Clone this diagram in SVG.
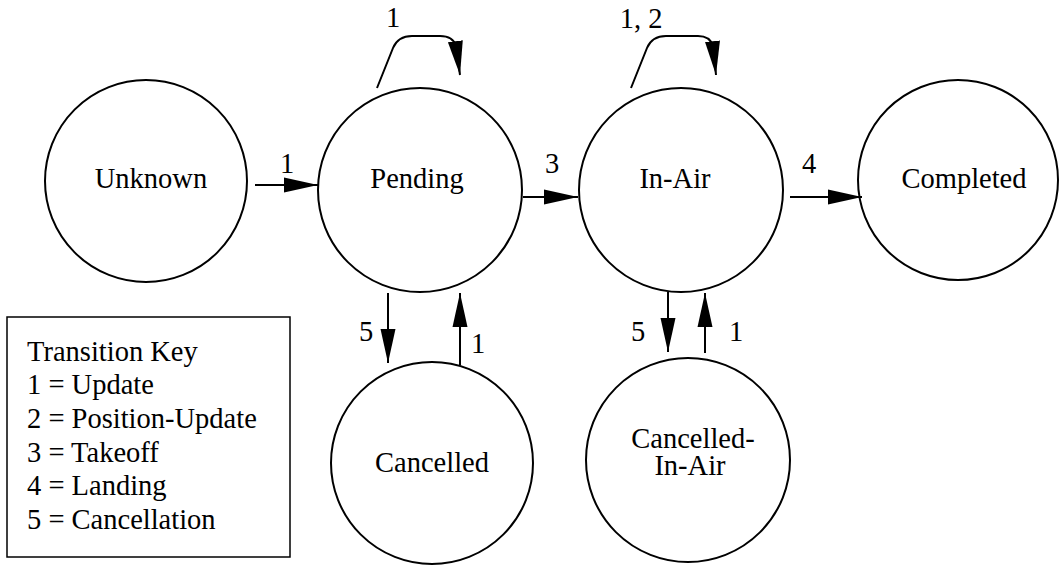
<svg xmlns="http://www.w3.org/2000/svg" width="1059" height="565" viewBox="0 0 1059 565">
<defs>
<marker id="ah" markerWidth="36" markerHeight="16" refX="34" refY="8" orient="auto" markerUnits="userSpaceOnUse">
<path d="M0,0.5 L34,8 L0,15.5 Z" fill="#000"/>
</marker>
</defs>
<style>
.node circle{fill:#fff;stroke:#000;stroke-width:2}
text{font-family:"Liberation Serif","Times New Roman",serif;font-size:28.5px;fill:#000}
.c{text-anchor:middle}
.edge{fill:none;stroke:#000;stroke-width:2}
</style>
<rect width="1059" height="565" fill="#fff"/>
<g id="unknown" class="node"><circle cx="146" cy="181" r="101"/><text class="c" x="151" y="188">Unknown</text></g>
<g id="pending" class="node"><circle cx="420" cy="190" r="102"/><text class="c" x="417" y="188">Pending</text></g>
<g id="inair" class="node"><circle cx="681" cy="190" r="102"/><text class="c" x="675" y="188">In-Air</text></g>
<g id="completed" class="node"><circle cx="958" cy="180" r="100"/><text class="c" x="964" y="188">Completed</text></g>
<g id="cancelled" class="node"><circle cx="432" cy="463" r="101"/><text class="c" x="432" y="472">Cancelled</text></g>
<g id="cancelledinair" class="node"><circle cx="688" cy="460" r="102"/><text class="c" x="693" y="448">Cancelled-</text><text class="c" x="690" y="475">In-Air</text></g>
<g id="connectors">
<path class="edge" d="M255,185 L318,185" marker-end="url(#ah)"/>
<path class="edge" d="M523,197 L578,197" marker-end="url(#ah)"/>
<path class="edge" d="M790,197 L862,197" marker-end="url(#ah)"/>
<path class="edge" d="M388,293 L388,363" marker-end="url(#ah)"/>
<path class="edge" d="M460,365 L460,293" marker-end="url(#ah)"/>
<path class="edge" d="M668,292 L668,352" marker-end="url(#ah)"/>
<path class="edge" d="M705,353 L705,293" marker-end="url(#ah)"/>
<path class="edge" d="M377,88 L393,48 Q398,36 412,36 L440,36 Q453,36 456,46 L460,75" marker-end="url(#ah)"/>
<path class="edge" d="M631,88 L647,48 Q652,36 666,36 L698,36 Q710,36 713,46 L716,75" marker-end="url(#ah)"/>
<text x="287" y="173" class="c">1</text>
<text x="552" y="173" class="c">3</text>
<text x="809" y="173" class="c">4</text>
<text x="366" y="341" class="c">5</text>
<text x="478" y="353" class="c">1</text>
<text x="638" y="341" class="c">5</text>
<text x="736" y="341" class="c">1</text>
<text x="393" y="27" class="c">1</text>
<text x="641" y="28" class="c">1, 2</text>
</g>
<g id="legend">
<rect x="7" y="317" width="283" height="240" fill="#fff" stroke="#000" stroke-width="1.5"/>
<text x="27" y="361">Transition Key</text>
<text x="27" y="394">1 = Update</text>
<text x="27" y="428">2 = Position-Update</text>
<text x="27" y="462">3 = Takeoff</text>
<text x="27" y="495">4 = Landing</text>
<text x="27" y="529">5 = Cancellation</text>
</g>
</svg>
